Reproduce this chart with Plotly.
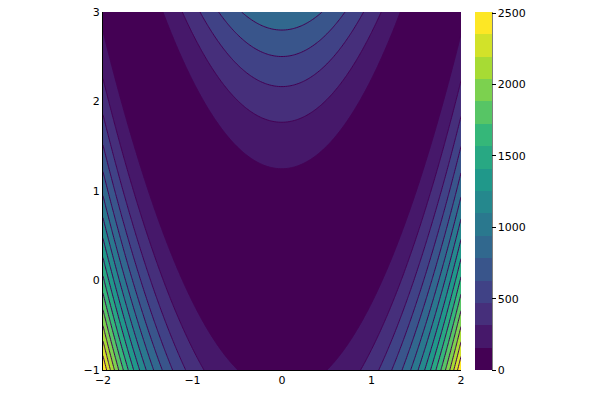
import numpy as np
import plotly.graph_objects as go
from plotly.colors import sample_colorscale

# Rosenbrock surface shown in the reference: f(x, y) = (a - x)^2 + b (y - x^2)^2
a_coef = 1.0
b_coef = 100.0
x_vals = np.linspace(-2, 2, 201)
y_vals = np.linspace(-1, 3, 201)
X, Y = np.meshgrid(x_vals, y_vals)
Z = (a_coef - X) ** 2 + b_coef * (Y - X ** 2) ** 2

x_ticks = [-2, -1, 0, 1, 2]
y_ticks = [-1, 0, 1, 2, 3]
cb_ticks = [0, 500, 1000, 1500, 2000, 2500]
n_bands = 16

zmin, zmax = float(Z.min()), float(Z.max())
step = (zmax - zmin) / n_bands

band_colors = sample_colorscale("Viridis", [i / (n_bands - 1) for i in range(n_bands)])
discrete_scale = []
for i, c in enumerate(band_colors):
    discrete_scale.append([i / n_bands, c])
    discrete_scale.append([(i + 1) / n_bands, c])

L, R, T, B = 103, 139, 12, 30
PW = 600 - L - R
cb_left = 475
cb_thick = 17

fig = go.Figure()
fig.add_trace(go.Contour(
    x=x_vals, y=y_vals, z=Z,
    colorscale=discrete_scale,
    zmin=zmin, zmax=zmax,
    contours=dict(start=zmin, end=zmax, size=step, coloring="fill"),
    line=dict(color="#440154", width=1),
    showscale=False,
))
# colorbar only (no visible points)
fig.add_trace(go.Scatter(
    x=[None, None], y=[None, None], mode="markers", showlegend=False,
    marker=dict(
        color=[zmin, zmax], cmin=zmin, cmax=zmax, colorscale=discrete_scale,
        showscale=True,
        colorbar=dict(
            x=(cb_left - L) / PW, xanchor="left", xpad=0, ypad=0,
            y=0.5, yanchor="middle", len=1, lenmode="fraction",
            thickness=cb_thick, outlinewidth=0,
            tickvals=cb_ticks, ticktext=[str(t) for t in cb_ticks],
            ticks="outside", ticklen=4, tickcolor="black",
            tickfont=dict(family="DejaVu Sans", size=11, color="black"),
        ),
    ),
))

x0p = (cb_left - L) / PW
xr = (cb_left + cb_thick - L) / PW
for i in range(1, n_bands):
    yy = i / n_bands
    fig.add_shape(type="line", xref="paper", yref="paper", x0=x0p, x1=xr, y0=yy, y1=yy,
                  line=dict(color="rgba(255,255,255,0.35)", width=1))
fig.add_shape(type="line", xref="paper", yref="paper", x0=xr, x1=xr, y0=0, y1=1,
              line=dict(color="black", width=1))

fig.update_layout(
    width=600, height=400,
    margin=dict(l=L, r=R, t=T, b=B, autoexpand=False),
    paper_bgcolor="white", plot_bgcolor="white",
    font=dict(family="DejaVu Sans", size=11, color="black"),
    showlegend=False,
    xaxis=dict(range=[-2, 2], tickvals=x_ticks, showgrid=False, zeroline=False,
               showline=True, linecolor="black", linewidth=1, ticks=""),
    yaxis=dict(range=[-1, 3], tickvals=y_ticks, showgrid=False, zeroline=False,
               showline=True, linecolor="black", linewidth=1, ticks=""),
)

fig.write_html("out.html", config={"displayModeBar": False},
               post_script="document.body.style.margin='0';")
